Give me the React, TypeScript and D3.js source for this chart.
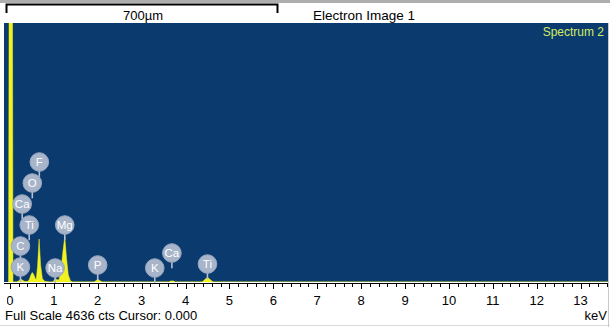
import React from 'react';
import * as d3 from 'd3';

const fullScale = 4636;
const spectrumKeV = [
  -0.03, -0.01, 0.05, 0.07,
  0.16, 0.21, 0.25, 0.29, 0.34, 0.4,
  0.44, 0.48, 0.51, 0.54, 0.58, 0.6,
  0.63, 0.665, 0.7, 0.74, 0.8, 0.9,
  0.98, 1.03, 1.08, 1.12, 1.17, 1.21, 1.25, 1.29, 1.33, 1.38, 1.43,
  1.92, 1.97, 2.0, 2.04, 2.1,
  3.62, 3.67, 3.72, 3.77,
  4.38, 4.44, 4.5, 4.56, 4.63,
  13.7,
];
const spectrumCounts = [
  0, 9000, 9000, 0,
  0, 25, 55, 30, 10, 10,
  40, 130, 170, 140, 60, 50,
  280, 770, 300, 60, 10, 0,
  0, 60, 40, 40, 260, 560, 810, 420, 130, 20, 0,
  0, 30, 50, 30, 0,
  0, 20, 20, 0,
  0, 45, 85, 45, 0,
  0,
];

const axisLabels = ['0', '1', '2', '3', '4', '5', '6', '7', '8', '9', '10', '11', '12', '13'];

const labelElements = ['F', 'O', 'Ca', 'Ti', 'C', 'K', 'Mg', 'Na', 'P', 'K', 'Ca', 'Ti'];
const labelEnergies = [0.67, 0.51, 0.28, 0.44, 0.24, 0.24, 1.25, 1.03, 2.0, 3.3, 3.69, 4.5];
const labelCounts = [2148, 1772, 1396, 1020, 644, 268, 1020, 250, 304, 250, 519, 322];

const font = "'Liberation Sans', Arial, sans-serif";

export default function App() {
  const W = 610;
  const H = 327;
  const plot = { left: 4, right: 608, top: 23, bottom: 282 };
  const x = d3.scaleLinear().domain([0, 13]).range([9.9, 580.6]);
  const y = d3.scaleLinear().domain([0, fullScale]).range([plot.bottom, plot.top]);

  const area = d3
    .area<number>()
    .x((_, i) => x(spectrumKeV[i]))
    .y0(plot.bottom)
    .y1((d) => y(d));

  const minorTicks = d3.range(0, 69).map((i) => i * 0.2);
  const r = 9.3;

  return (
    <svg
      width={W}
      height={H}
      style={{ position: 'absolute', left: 0, top: 0, background: '#fff' }}
    >
      <defs>
        <clipPath id="plotclip">
          <rect x={plot.left} y={plot.top} width={plot.right - plot.left} height={plot.bottom - plot.top} />
        </clipPath>
        <clipPath id="axisclip">
          <rect x={7} y={plot.bottom} width={W - 7} height={H - plot.bottom} />
        </clipPath>
        <filter id="blur" x="-20%" y="-20%" width="140%" height="140%">
          <feGaussianBlur stdDeviation="0.5" />
        </filter>
      </defs>
      <rect x={0} y={0} width={W} height={H} fill="#ffffff" />
      {/* top image strip */}
      <rect x={0} y={0} width={W} height={3} fill="#aeaeae" />
      {/* scale bar */}
      <path d="M6.5,13 V4.5 H277.5 V13" fill="none" stroke="#000" strokeWidth={2} />
      <text x={143} y={20} fontFamily={font} fontSize={13} textAnchor="middle" fill="#000">
        700µm
      </text>
      <text x={313} y={20} fontFamily={font} fontSize={13.5} fill="#000">
        Electron Image 1
      </text>

      {/* plot background */}
      <rect
        x={plot.left}
        y={plot.top}
        width={plot.right - plot.left}
        height={plot.bottom - plot.top}
        fill="#0b3a6e"
      />
      <g clipPath="url(#plotclip)">
        <path d={area(spectrumCounts) || ''} fill="#f2f21e" stroke="#f2f21e" strokeWidth={0.5} />
      </g>
      <text
        x={604}
        y={36}
        fontFamily={font}
        fontSize={12}
        textAnchor="end"
        fill="#d2ec62"
      >
        Spectrum 2
      </text>

      {/* element labels */}
      <g>
        {labelElements.map((el, i) => {
          const cx = x(labelEnergies[i]);
          const cy = y(labelCounts[i]);
          return (
            <g key={i}>
              <line
                x1={cx}
                x2={cx}
                y1={cy + r - 1}
                y2={cy + r + 6}
                stroke="#b3bfd0"
                strokeWidth={1.6}
              />
              <circle cx={cx} cy={cy} r={r} fill="#a7b4c9" stroke="#97a7be" strokeWidth={1} filter="url(#blur)" />
              <text
                x={cx}
                y={cy + 4}
                fontFamily={font}
                fontSize={11.5}
                textAnchor="middle"
                fill="#ffffff"
              >
                {el}
              </text>
            </g>
          );
        })}
      </g>

      {/* axis */}
      <line x1={plot.left} x2={plot.right} y1={283.5} y2={283.5} stroke="#000" strokeWidth={1} />
      <g clipPath="url(#axisclip)">
        {minorTicks.map((t, i) => (
          <line
            key={i}
            x1={Math.round(x(t)) + 0.5}
            x2={Math.round(x(t)) + 0.5}
            y1={283.5}
            y2={i % 5 === 0 ? 289 : 287}
            stroke="#000"
            strokeWidth={1}
          />
        ))}
        {axisLabels.map((lab, i) => (
          <text
            key={lab}
            x={x(i)}
            y={305}
            fontFamily={font}
            fontSize={13}
            textAnchor="middle"
            fill="#000"
          >
            {lab}
          </text>
        ))}
      </g>
      <text x={5} y={320} fontFamily={font} fontSize={13} fill="#000">
        {`Full Scale ${fullScale} cts Cursor: 0.000`}
      </text>
      <text x={607} y={320} fontFamily={font} fontSize={13} textAnchor="end" fill="#000">
        keV
      </text>
      <line x1={0} x2={W} y1={325.5} y2={325.5} stroke="#d6dcd8" strokeWidth={1} />
      <line x1={608.5} x2={608.5} y1={plot.top} y2={H} stroke="#c4ccc6" strokeWidth={1} />
    </svg>
  );
}
